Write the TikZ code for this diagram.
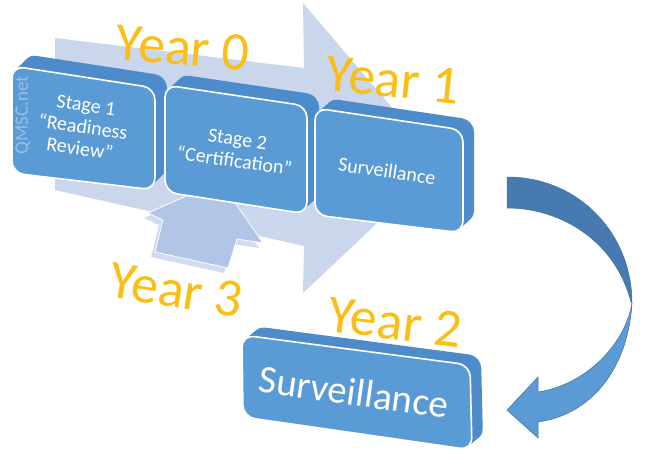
\documentclass[tikz,border=0pt]{standalone}
\usepackage{fontspec}
\setmainfont{Carlito}
\definecolor{face}{RGB}{91,155,213}
\definecolor{side}{RGB}{78,139,202}
\definecolor{bigarrow}{RGB}{201,214,235}
\definecolor{uparrow}{RGB}{178,197,231}
\definecolor{upside}{RGB}{208,220,241}
\definecolor{yearcol}{RGB}{250,190,20}
\definecolor{curvedark}{RGB}{70,122,176}
\definecolor{curvelight}{RGB}{91,155,213}
\definecolor{curveline}{RGB}{65,113,160}
\definecolor{wmark}{RGB}{150,190,232}
\newcommand{\blockbox}[6]{%
  \foreach \t in {1,0.9,...,0.05}{
    \fill[side,rounded corners=12pt,shift={(\t*#5,\t*#6)}] #1 -- #2 -- #3 -- #4 -- cycle;
  }
  \filldraw[fill=face,draw=white,line width=1.6pt,rounded corners=12pt] #1 -- #2 -- #3 -- #4 -- cycle;
}
\tikzset{
  boxtext/.style={text=white,align=center,font=\fontsize{20}{22}\selectfont},
  yearlabel/.style={text=yearcol,font=\fontsize{54}{60}\selectfont},
}
\begin{document}
\begin{tikzpicture}[x=1pt,y=-1pt]
\useasboundingbox (0,0) rectangle (645,475);
% big light arrow
\fill[bigarrow] (55,38) -- (304,68) -- (303,3) -- (440,164) -- (303,293) -- (304,246) -- (55,190) -- cycle;
% up arrow (Year 3)
\fill[upside,shift={(-4,5)}] (220,181) -- (263,243) -- (237,239) -- (228,268) -- (155,252) -- (163,220) -- (148,213) -- cycle;
\filldraw[fill=uparrow,draw=white,line width=0.8pt] (220,181) -- (263,243) -- (237,239) -- (228,268) -- (155,252) -- (163,220) -- (148,213) -- cycle;
% top row boxes
\blockbox{(12,66)}{(155,88)}{(155,190)}{(12,173)}{12}{-12}
\blockbox{(165,85)}{(307,106)}{(307,214)}{(165,192)}{12}{-11}
\blockbox{(315,108)}{(463,130)}{(463,233)}{(315,215)}{11}{-10}
% curved arrow
\filldraw[fill=curvedark,draw=curveline,line width=0.5pt] (507,177) .. controls (580,177) and (632,235) .. (632,303)
  -- (631,302)
  .. controls (615,240) and (560,208) .. (507,208) -- cycle;
\filldraw[fill=curvelight,draw=curveline,line width=0.5pt] (632,303) .. controls (628,370) and (590,415) .. (538,422)
  -- (538,438) -- (507,410) -- (538,377) -- (538,392)
  .. controls (585,385) and (625,345) .. (632,303) -- cycle;
% bottom box
\blockbox{(242,335)}{(470,365)}{(472,450)}{(243,417)}{11}{-9}
% texts
\node[text=wmark,rotate=90,font=\fontsize{19}{20}\selectfont] (wm) at (23,115) {QMSC.net};
\node[boxtext,rotate=-8] (s1) at (83,127) {Stage 1\\“Readiness\\Review”};
\node[boxtext,rotate=-8] (s2) at (236,150) {Stage 2\\“Certification”};
\node[boxtext,rotate=-8] (s3) at (387,171) {Surveillance};
\node[text=white,rotate=-8,font=\fontsize{39}{44}\selectfont] (s4) at (354,392) {Surveillance};
\node[yearlabel,rotate=-5] (y0) at (183,48) {Year 0};
\node[yearlabel,rotate=-6] (y1) at (393,80) {Year 1};
\node[yearlabel,rotate=-9] (y3) at (176,290) {Year 3};
\node[yearlabel,rotate=-7] (y2) at (395,322) {Year 2};
\end{tikzpicture}
\end{document}
